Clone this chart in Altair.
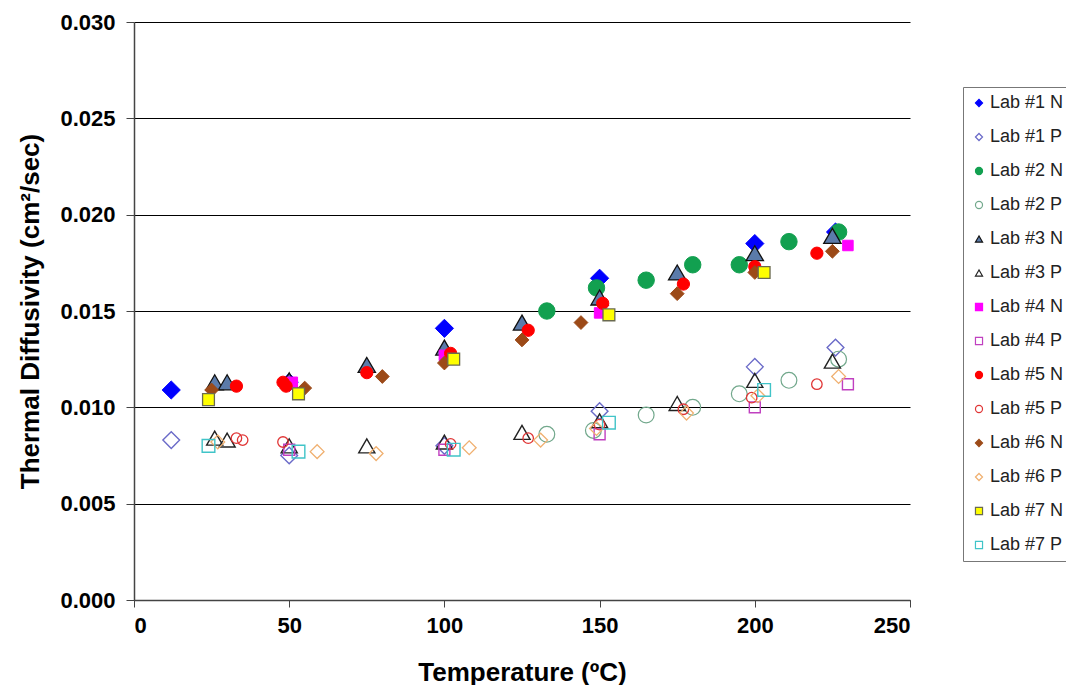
import altair as alt
import pandas as pd

series = ["Lab #1 N", "Lab #1 P", "Lab #2 N", "Lab #2 P", "Lab #3 N", "Lab #3 P",
          "Lab #4 N", "Lab #4 P", "Lab #5 N", "Lab #5 P", "Lab #6 N", "Lab #6 P",
          "Lab #7 N", "Lab #7 P"]

lab1n_x = [12, 50, 100, 150, 200, 226]
lab1n_y = [0.0109, 0.0113, 0.0141, 0.0167, 0.0185, 0.0191]
lab1p_x = [12, 50, 100, 150, 200, 226]
lab1p_y = [0.0083, 0.0075, 0.0080, 0.0098, 0.0121, 0.0131]
lab2n_x = [133, 149, 165, 180, 195, 211, 227]
lab2n_y = [0.0150, 0.0162, 0.0166, 0.0174, 0.0174, 0.0186, 0.0191]
lab2p_x = [133, 148, 165, 180, 195, 211, 227]
lab2p_y = [0.0086, 0.0088, 0.0096, 0.0100, 0.0107, 0.0114, 0.0125]
lab3n_x = [26, 30, 50, 75, 100, 125, 150, 175, 200, 225]
lab3n_y = [0.0113, 0.0113, 0.0114, 0.0122, 0.0131, 0.0144, 0.0157, 0.0170, 0.0180, 0.0189]
lab3p_x = [26, 30, 50, 75, 100, 125, 150, 175, 200, 225]
lab3p_y = [0.0084, 0.0083, 0.0080, 0.0080, 0.0082, 0.0087, 0.0093, 0.0102, 0.0114, 0.0124]
lab4n_x = [51, 100, 150, 200, 230]
lab4n_y = [0.0113, 0.0127, 0.0149, 0.0172, 0.0184]
lab4p_x = [50, 100, 150, 200, 230]
lab4p_y = [0.0078, 0.0078, 0.0086, 0.0100, 0.0112]
lab5n_x = [33, 48, 49, 75, 102, 127, 151, 177, 200, 220]
lab5n_y = [0.0111, 0.0113, 0.0111, 0.0118, 0.0128, 0.0140, 0.0154, 0.0164, 0.0173, 0.0180]
lab5p_x = [33, 35, 48, 102, 127, 150, 177, 199, 220]
lab5p_y = [0.0084, 0.0083, 0.0082, 0.0081, 0.0084, 0.0091, 0.0099, 0.0105, 0.0112]
lab6n_x = [25, 55, 80, 100, 125, 144, 175, 200, 225]
lab6n_y = [0.0109, 0.0110, 0.0116, 0.0123, 0.0135, 0.0144, 0.0159, 0.0170, 0.0181]
lab6p_x = [27, 59, 78, 108, 131, 149, 178, 201, 227]
lab6p_y = [0.0082, 0.0077, 0.0076, 0.0079, 0.0083, 0.0089, 0.0097, 0.0106, 0.0116]
lab7n_x = [24, 53, 103, 153, 203]
lab7n_y = [0.0104, 0.0107, 0.0125, 0.0148, 0.0170]
lab7p_x = [24, 53, 103, 153, 203]
lab7p_y = [0.0080, 0.0077, 0.0078, 0.0092, 0.0109]

xs = [lab1n_x, lab1p_x, lab2n_x, lab2p_x, lab3n_x, lab3p_x, lab4n_x, lab4p_x,
      lab5n_x, lab5p_x, lab6n_x, lab6p_x, lab7n_x, lab7p_x]
ys = [lab1n_y, lab1p_y, lab2n_y, lab2p_y, lab3n_y, lab3p_y, lab4n_y, lab4p_y,
      lab5n_y, lab5p_y, lab6n_y, lab6p_y, lab7n_y, lab7p_y]

shapes = ["diamond", "diamond", "circle", "circle", "triangle-up", "triangle-up",
          "square", "square", "circle", "circle", "diamond", "diamond", "square", "square"]
strokes = ["#0000FF", "#6A6AC8", "#12A050", "#72A88C", "#111111", "#222222",
           "#FF00FF", "#C040C0", "#FF0000", "#E03535", "#9C4A18", "#F0B070",
           "#6A6A50", "#40C4C8"]
fills = ["#0000FF", "transparent", "#12A050", "transparent", "#5B7BAA", "transparent",
         "#FF00FF", "transparent", "#FF0000", "transparent", "#9C4A18", "transparent",
         "#FFFF00", "transparent"]
sizes = [330, 280, 270, 250, 300, 260, 110, 120, 150, 110, 190, 190, 140, 160]
widths = [1, 1.4, 1, 1.2, 1.3, 1.4, 1, 1.4, 1, 1.3, 1, 1.3, 1.3, 1.4]

rows = []
for i, s in enumerate(series):
    for x, y in zip(xs[i], ys[i]):
        rows.append({"series": s, "temp": x, "diff": y})
df = pd.DataFrame(rows)

font = "Liberation Sans"

leg = alt.Legend(title=None, orient="none", legendX=829, legendY=65)

x_enc = alt.X("temp:Q", scale=alt.Scale(domain=[0, 250], nice=False),
              axis=alt.Axis(values=[0, 50, 100, 150, 200, 250], grid=False,
                            title="Temperature (ºC)", titleY=80, titleBaseline="alphabetic",
                            titleFontSize=26, tickSize=7, labelPadding=8))
y_enc = alt.Y("diff:Q", scale=alt.Scale(domain=[0, 0.03], nice=False),
              axis=alt.Axis(values=[0, 0.005, 0.01, 0.015, 0.02, 0.025, 0.03], format=".3f",
                            grid=True, gridColor="#000000", gridWidth=1,
                            title="Thermal Diffusivity (cm²/sec)", titleX=-104, titleY=289,
                            titleAngle=-90, titleAlign="center", titleBaseline="middle",
                            tickSize=8, labelPadding=11))
shape_enc = alt.Shape("series:N", scale=alt.Scale(domain=series, range=shapes), legend=leg)
stroke_enc = alt.Stroke("series:N", scale=alt.Scale(domain=series, range=strokes), legend=leg)
fill_enc = alt.Fill("series:N", scale=alt.Scale(domain=series, range=fills), legend=leg)

base = alt.Chart(df)
layers = []
for i, s in enumerate(series):
    layers.append(
        base.transform_filter(alt.datum.series == s)
        .mark_point(size=sizes[i], strokeWidth=widths[i], opacity=1, filled=False)
        .encode(x=x_enc, y=y_enc, shape=shape_enc, stroke=stroke_enc, fill=fill_enc)
    )

chart = alt.layer(*layers).properties(
    width=776, height=578,
    autosize=alt.AutoSizeParams(type="none"),
    padding={"left": 126, "top": 14, "right": 156, "bottom": 85},
).configure_view(stroke=None).configure_axis(
    labelFont=font, titleFont=font, labelFontSize=22, labelFontWeight="bold",
    titleFontSize=26, titleFontWeight="bold", labelColor="#000", titleColor="#000",
    domainColor="#444", tickColor="#444", domainWidth=1.5,
).configure_legend(
    labelFont=font, labelFontSize=18, labelColor="#222", symbolSize=50,
    strokeColor="#777", padding=7, rowPadding=16, symbolStrokeWidth=1.2,
    labelOffset=2, fillColor="white",
)

chart.save("out.html", embed_options={"renderer": "svg", "actions": False})
